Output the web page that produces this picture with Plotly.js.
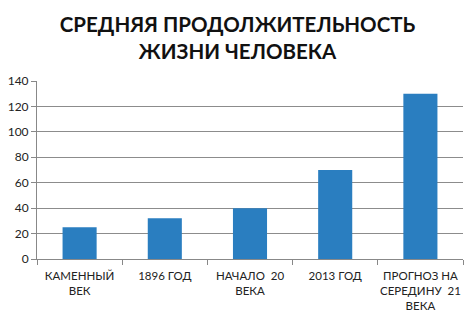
<!DOCTYPE html>
<html><head><meta charset="utf-8">
<script src="https://cdn.plot.ly/plotly-3.0.1.min.js"></script>
<style>html,body{margin:0;padding:0;background:#fff}#chart{width:475px;height:321px}</style>
</head><body><div id="chart"></div>
<script>
const categories = ["КАМЕННЫЙ<br>ВЕК", "1896 ГОД", "НАЧАЛО  20<br>ВЕКА", "2013 ГОД", "ПРОГНОЗ НА<br>СЕРЕДИНУ  21<br>ВЕКА"];
const values = [25, 32, 40, 70, 130];
const yTicks = [0, 20, 40, 60, 80, 100, 120, 140];
const titleText = "СРЕДНЯЯ ПРОДОЛЖИТЕЛЬНОСТЬ<br>ЖИЗНИ ЧЕЛОВЕКА";

Plotly.newPlot('chart', [{
  type: 'bar',
  x: categories,
  y: values,
  marker: {color: '#2a7ec0'},
  hoverinfo: 'none'
}], {
  width: 475, height: 321,
  margin: {l: 37, r: 12, t: 81, b: 62},
  paper_bgcolor: '#fff', plot_bgcolor: '#fff',
  bargap: 0.6,
  showlegend: false,
  font: {family: 'Lato, "Open Sans", sans-serif', color: '#222', size: 11},
  title: {
    text: titleText,
    font: {family: 'Lato, "Open Sans", sans-serif', size: 20.5, color: '#111', weight: 'bold'},
    x: 0.5, xref: 'container', xanchor: 'center',
    y: 1 - 32/321, yref: 'container', yanchor: 'middle'
  },
  xaxis: {
    type: 'category',
    tickson: 'boundaries',
    ticks: 'outside', ticklen: 5, tickcolor: '#888',
    showline: true, linecolor: '#888', linewidth: 1,
    showgrid: false,
    tickfont: {size: 11.5, color: '#222'},
    ticklabelstandoff: 6,
    tickangle: 0,
    fixedrange: true
  },
  yaxis: {
    range: [0, 140],
    tickvals: yTicks,
    ticktext: yTicks.map(String),
    ticks: 'outside', ticklen: 5, tickcolor: '#888',
    showline: true, linecolor: '#888', linewidth: 1,
    showgrid: true, gridcolor: '#8c8c8c', gridwidth: 1,
    zeroline: false,
    tickfont: {size: 12, color: '#222'},
    fixedrange: true
  }
}, {staticPlot: true, displayModeBar: false});
</script></body></html>
